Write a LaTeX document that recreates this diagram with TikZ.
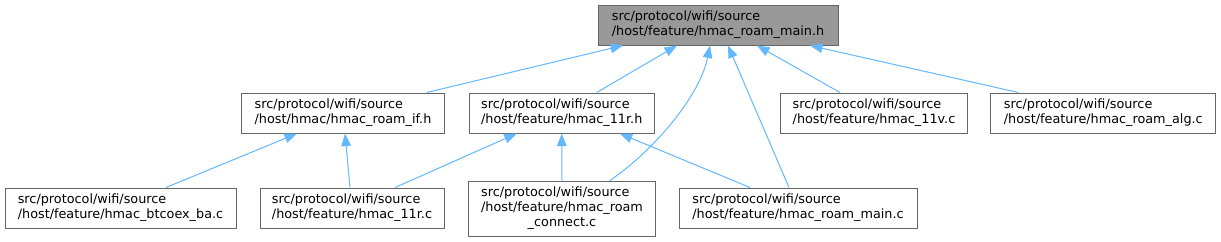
\documentclass[tikz,border=0pt]{standalone}
\usepackage{fontspec}
\setmainfont{DejaVu Sans}
\usetikzlibrary{arrows.meta}
\definecolor{edgeblue}{HTML}{63B8FF}
\definecolor{boxgrey}{HTML}{666666}
\definecolor{topfill}{HTML}{999999}
\begin{document}
\begin{tikzpicture}[x=1pt,y=-1pt,
  filebox/.style={draw=boxgrey, line width=1pt, fill=white, rectangle, align=left,
    inner sep=2pt, font=\fontsize{12.8}{15}\selectfont, minimum height=40pt},
  dep/.style={draw=edgeblue, line width=1pt, -{Triangle[length=12.5pt,width=9.5pt]}}]
\useasboundingbox (0,0) rectangle (1221,241);
\fill[white] (0,0) rectangle (1221,241);
% nodes
\node[filebox, fill=topfill, minimum width=240pt] (top) at (718,25)
  {src/protocol/wifi/source\\/host/feature/hmac\_roam\_main.h};
\node[filebox, minimum width=203pt] (roamif) at (343,113)
  {src/protocol/wifi/source\\/host/hmac/hmac\_roam\_if.h};
\node[filebox, minimum width=185.5pt] (r11h) at (561.75,113)
  {src/protocol/wifi/source\\/host/feature/hmac\_11r.h};
\node[filebox, minimum width=186.6pt] (v11) at (874,113)
  {src/protocol/wifi/source\\/host/feature/hmac\_11v.c};
\node[filebox, minimum width=224.7pt] (alg) at (1103.3,113)
  {src/protocol/wifi/source\\/host/feature/hmac\_roam\_alg.c};
\node[filebox, minimum width=231pt] (btcoex) at (120.5,208)
  {src/protocol/wifi/source\\/host/feature/hmac\_btcoex\_ba.c};
\node[filebox, minimum width=184pt] (r11c) at (352,208)
  {src/protocol/wifi/source\\/host/feature/hmac\_11r.c};
\node[filebox, minimum width=187.4pt, minimum height=55pt, align=center] (connect) at (562,208.5)
  {\begin{tabular}{@{}l@{}}src/protocol/wifi/source\\/host/feature/hmac\_roam\\\multicolumn{1}{@{}c@{}}{\_connect.c}\end{tabular}};
\node[filebox, minimum width=238pt] (mainc) at (798,208)
  {src/protocol/wifi/source\\/host/feature/hmac\_roam\_main.c};
% edges
\draw[dep] ([xshift=83.7pt]roamif.north) -- ([xshift=-95pt]top.south);
\draw[dep] ([xshift=35pt]r11h.north) -- ([xshift=-41pt]top.south);
\draw[dep] ([xshift=48pt]connect.north) .. controls +(45,-31) and +(-10,50) .. ([xshift=-8pt]top.south);
\draw[dep] ([xshift=-9pt]mainc.north) -- ([xshift=10pt]top.south);
\draw[dep] ([xshift=-34pt]v11.north) -- ([xshift=39pt]top.south);
\draw[dep] ([xshift=-85pt]alg.north) -- ([xshift=92pt]top.south);
\draw[dep] ([xshift=45.5pt]btcoex.north) -- ([xshift=-46pt]roamif.south);
\draw[dep] ([xshift=-2pt]r11c.north) -- ([xshift=2pt]roamif.south);
\draw[dep] ([xshift=43pt]r11c.north) -- ([xshift=-45pt]r11h.south);
\draw[dep] (connect.north) -- (r11h.south);
\draw[dep] ([xshift=-48pt]mainc.north) -- ([xshift=58pt]r11h.south);
\end{tikzpicture}
\end{document}
